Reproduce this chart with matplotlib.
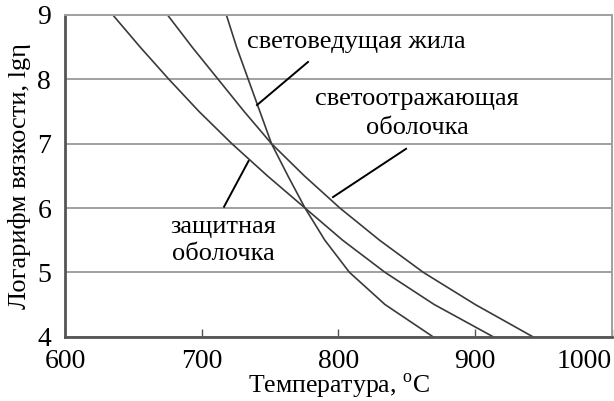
import matplotlib
matplotlib.use("Agg")
import matplotlib.pyplot as plt

plt.rcParams['font.family'] = ['Liberation Serif', 'DejaVu Serif']
plt.rcParams['mathtext.fontset'] = 'custom'
plt.rcParams['mathtext.rm'] = 'Liberation Serif'

# логарифм вязкости и температуры (°C) для трёх стёкол
lg_eta = [9, 8.5, 8, 7.5, 7, 6.5, 6, 5.5, 5, 4.5, 4]
t_core = [718, 725.5, 734, 742.5, 751, 763, 775.5, 790, 808, 834, 869]
t_clad = [675, 693, 712, 731, 751, 775, 801, 830, 862, 900, 942]
t_prot = [635, 655, 676, 698, 722, 748, 775.5, 803, 834, 870, 913]

x_ticks = [600, 700, 800, 900, 1000]
y_ticks = [4, 5, 6, 7, 8, 9]

fig = plt.figure(figsize=(6.14, 4.01), dpi=100)
ax = fig.add_axes([0.1059, 0.1604, 0.8908, 0.8022])

for t in (t_core, t_clad, t_prot):
    ax.plot(t, lg_eta, color='#3a3a3a', lw=1.2)

ax.set_xlim(600, 1000)
ax.set_ylim(4, 9)
ax.set_xticks(x_ticks)
ax.set_yticks(y_ticks)
ax.set_xticklabels([str(v) for v in x_ticks])
ax.get_xticklabels()[-1].set_horizontalalignment('right')

ax.yaxis.grid(True, color='#a0a0a0', lw=1.4)
ax.set_axisbelow(True)
ax.tick_params(axis='x', direction='in', length=6, width=1, color='#555555',
               labelsize=20, pad=9)
ax.tick_params(axis='y', length=0, labelsize=20, pad=10)

for side in ('left', 'bottom'):
    ax.spines[side].set_color('#555555')
    ax.spines[side].set_linewidth(2)
for side in ('top', 'right'):
    ax.spines[side].set_color('#a0a0a0')
    ax.spines[side].set_linewidth(1.4)

ax.set_xlabel('Температура, $^{\\rm o}$C', fontsize=18.5)
ax.xaxis.set_label_coords(0.5, -0.11)
ax.set_ylabel('Логарифм вязкости, lgη', fontsize=19)
ax.yaxis.set_label_coords(-0.063, 0.5)

# подписи кривых с выносками
ax.text(733, 8.58, 'световедущая жила', fontsize=19, ha='left', va='center')
ax.plot([777.7, 740.4], [8.27, 7.60], color='black', lw=1.4)

ax.text(857.4, 7.47, 'светоотражающая\nоболочка', fontsize=19,
        ha='center', va='center', linespacing=1.4)
ax.plot([849.4, 796], [6.92, 6.17], color='black', lw=1.4)

ax.text(715.5, 5.50, 'защитная\nоболочка', fontsize=19,
        ha='center', va='center', linespacing=1.3)
ax.plot([734.2, 716.3], [6.73, 6.02], color='black', lw=1.4)

fig.savefig('out.png', dpi=100)
